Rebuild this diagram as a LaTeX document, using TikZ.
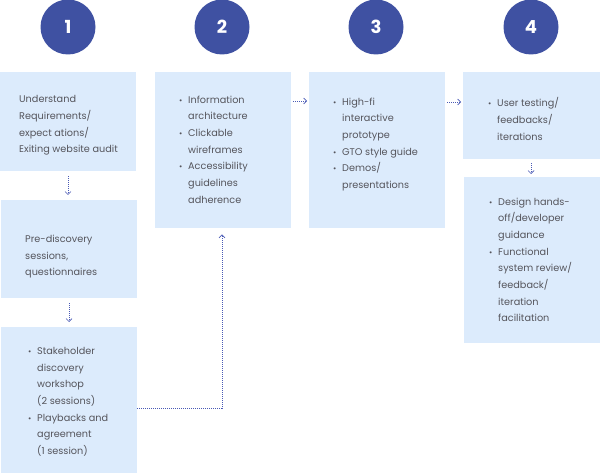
\documentclass[tikz,border=0pt]{standalone}
\usepackage{fontspec}
\setmainfont{Poppins}
\usetikzlibrary{arrows.meta}
\definecolor{boxfill}{HTML}{DCEBFC}
\definecolor{circfill}{HTML}{3F51A2}
\definecolor{txtcol}{HTML}{55555C}
\definecolor{arrcol}{HTML}{4A5AB5}
\newcommand{\bitem}{\makebox[9pt][l]{{\fontsize{8}{8}\selectfont •}}}
\newcommand{\hang}{\hspace*{9pt}}
\tikzset{
  stagebox/.style={fill=boxfill, draw=none, inner sep=0, anchor=north west},
  stagenum/.style={circle, fill=circfill, minimum size=55pt, inner sep=0, text=white,
    font=\fontsize{18}{18}\selectfont\bfseries},
  boxtext/.style={anchor=north west, inner sep=0, align=left, text=txtcol,
    font=\fontsize{9.7}{16.7}\selectfont},
  flow/.style={draw=arrcol, line width=0.8pt, dash pattern=on 0.8pt off 1.2pt,
    -{Straight Barb[length=3pt,width=6pt,line width=0.7pt]}},
}
\begin{document}
\begin{tikzpicture}[x=1pt,y=-1pt]
\useasboundingbox (0,0) rectangle (600,473);
% stage numbers
\node[stagenum] (n1) at (68,27) {1};
\node[stagenum] (n2) at (222,27) {2};
\node[stagenum] (n3) at (376,27) {3};
\node[stagenum] (n4) at (531,27) {4};
% boxes
\node[stagebox, minimum width=136pt, minimum height=99pt] (b1) at (0,72) {};
\node[stagebox, minimum width=136pt, minimum height=98pt] (b1b) at (1,200) {};
\node[stagebox, minimum width=136pt, minimum height=146pt] (b1c) at (1,327) {};
\node[stagebox, minimum width=136pt, minimum height=156pt] (b2) at (155,72) {};
\node[stagebox, minimum width=136pt, minimum height=156pt] (b3) at (309,72) {};
\node[stagebox, minimum width=137pt, minimum height=87pt] (b4) at (463,72) {};
\node[stagebox, minimum width=136pt, minimum height=166pt] (b4b) at (464,177) {};
% texts
\node[boxtext] (t1) at (19,95.5) {Understand\\Requirements/\\expect ations/\\Exiting website audit};
\node[boxtext] (t1b) at (25,235) {Pre-discovery\\sessions,\\questionnaires};
\node[boxtext] (t1c) at (28,347) {\bitem Stakeholder\\\hang discovery\\\hang workshop\\\hang (2 sessions)\\\bitem Playbacks and\\\hang agreement\\\hang (1 session)};
\node[boxtext] (t2) at (179,95.5) {\bitem Information\\\hang architecture\\\bitem Clickable\\\hang wireframes\\\bitem Accessibility\\\hang guidelines\\\hang adherence};
\node[boxtext] (t3) at (333,97.5) {\bitem High-fi\\\hang interactive\\\hang prototype\\\bitem GTO style guide\\\bitem Demos/\\\hang presentations};
\node[boxtext] (t4) at (488,97.5) {\bitem User testing/\\\hang feedbacks/\\\hang iterations};
\node[boxtext] (t4b) at (489,197.5) {\bitem Design hands-\\\hang off/developer\\\hang guidance\\\bitem Functional\\\hang system review/\\\hang feedback/\\\hang iteration\\\hang facilitation};
% connectors
\draw[flow, shorten <=5pt, shorten >=5pt] (b1.south -| 68,0) -- (b1b.north -| 68,0);
\draw[flow, shorten <=5pt, shorten >=5pt] (b1b.south -| 69,0) -- (b1c.north -| 69,0);
\coordinate (k) at (222,408);
\draw[flow, shorten >=6pt] (b1c.east |- k) -- (k) -- (b2.south -| k);
\draw[flow, shorten <=2pt, shorten >=2pt] (b2.east |- 0,101) -- (b3.west |- 0,101);
\draw[flow, shorten <=2pt, shorten >=2pt] (b3.east |- 0,102) -- (b4.west |- 0,102);
\draw[flow, shorten <=4pt, shorten >=3pt] (b4.south -| 531,0) -- (b4b.north -| 531,0);
\end{tikzpicture}
\end{document}
